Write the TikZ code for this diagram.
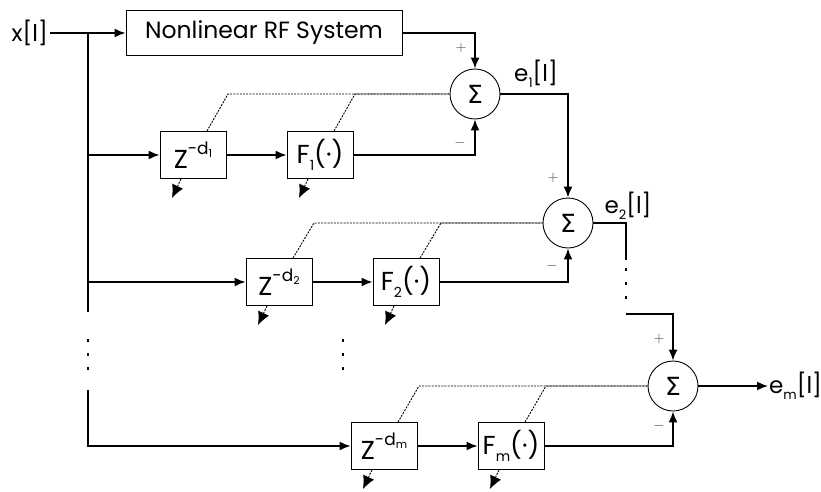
\documentclass[tikz,border=0pt]{standalone}
\usepackage{fontspec}
\setmainfont{Poppins}
\newfontfamily\sigmafont{DejaVu Sans}
\usetikzlibrary{arrows.meta,positioning,calc}
\newcommand{\zdel}[1]{Z\raisebox{1.0ex}{\fontsize{17}{17}\selectfont -d\raisebox{-0.35ex}{\fontsize{11}{11}\selectfont #1}}}
\newcommand{\fblk}[1]{F\raisebox{-0.45ex}{\fontsize{14}{14}\selectfont #1}(·)}
\newcommand{\esig}[1]{e\raisebox{-0.45ex}{\fontsize{13}{13}\selectfont #1}[l]}

\begin{document}
\begin{tikzpicture}[x=1pt,y=-1pt,every node/.style={font=\fontsize{23}{27}\selectfont},
  blk/.style={draw,line width=0.9pt,minimum width=66pt,minimum height=47pt,inner sep=0pt,font=\fontsize{26}{29}\selectfont},
  sumc/.style={draw,circle,line width=0.9pt,minimum size=50pt,inner sep=0pt,font=\sigmafont\fontsize{25}{25}\selectfont},
  sig/.style={line width=1.6pt,-{Latex[length=11pt,width=9pt]}},
  wire/.style={line width=1.6pt},
  adapt/.style={line width=0.9pt,dash pattern=on 2pt off 1.2pt},
  adaptout/.style={line width=0.9pt,dash pattern=on 2pt off 1.2pt,-{Latex[length=13pt,width=12pt]}},
  vdots/.style={line width=2pt,dash pattern=on 3pt off 11pt},
  sgn/.style={font=\fontsize{15}{15}\selectfont,text=black!75}]
\useasboundingbox (0,0) rectangle (821,492);
\node[anchor=east,inner sep=2pt] (xin) at (50,33) {x[l]};
\node[blk,minimum width=276pt,minimum height=45pt,font=\fontsize{23.5}{27}\selectfont] (nl) at (264,33) {Nonlinear RF System};
\node[sumc] (s1) at (475,94) {Σ};
\node[sumc] (s2) at (568,223) {Σ};
\node[sumc] (s3) at (673,386) {Σ};
\node[blk] (z1) at (193,155) {\zdel{1}};
\node[blk] (f1) at (320,155) {\fblk{1}};
\node[blk] (z2) at (279,282) {\zdel{2}};
\node[blk] (f2) at (406,282) {\fblk{2}};
\node[blk] (zm) at (384,446) {\zdel{m}};
\node[blk] (fm) at (511,446) {\fblk{m}};
\node (e1) at (536,74) {\esig{1}};
\node (e2) at (628,206) {\esig{2}};
\node[anchor=west,inner sep=1pt] (em) at (768,386) {\esig{m}};
\coordinate (tap0) at (88,33);
\coordinate (tapa) at (88,312);
\coordinate (tapb) at (88,390);
\coordinate (r2a) at (626,260);
\coordinate (r2b) at (626,314);
\draw[sig] (xin) -- (nl);
\draw[sig] (nl.east) -| (s1.north);
\draw[wire] (tap0) -- (tapa);
\draw[vdots] (88,339) -- (88,372);
\draw[vdots] (343,339) -- (343,372);
\draw[sig] (88,155) -- (z1);
\draw[sig] (88,282) -- (z2);
\draw[sig] (tapb) |- (zm);
\draw[sig] (z1) -- (f1);
\draw[sig] (z2) -- (f2);
\draw[sig] (zm) -- (fm);
\draw[sig] (f1) -| (s1.south);
\draw[sig] (f2) -| (s2.south);
\draw[sig] (fm) -| (s3.south);
\draw[sig] (s1) -| (s2.north);
\draw[wire] (s2) -| (r2a);
\draw[vdots] (626,268) -- (626,302);
\draw[sig] (r2b) -| (s3.north);
\draw[sig] (s3) -- (em);
\foreach \b/\s in {z1/s1,f1/s1,z2/s2,f2/s2,zm/s3,fm/s3}{
  \draw[adapt] ([xshift=14pt]\b.north) -- ($(\b.north |- \s.west)+(35,0)$) -- (\s.west);
  \draw[adaptout] ([xshift=-12pt]\b.south) -- ++(-9,19);
}
\node[sgn] at ([shift={(-14,-21)}]s1.north) {$+$};
\node[sgn] at ([shift={(-15,-20)}]s2.north) {$+$};
\node[sgn] at ([shift={(-14,-22)}]s3.north) {$+$};
\node[sgn] at ([shift={(-15,23)}]s1.south) {$-$};
\node[sgn] at ([shift={(-16,17)}]s2.south) {$-$};
\node[sgn] at ([shift={(-14,14)}]s3.south) {$-$};
\end{tikzpicture}
\end{document}
